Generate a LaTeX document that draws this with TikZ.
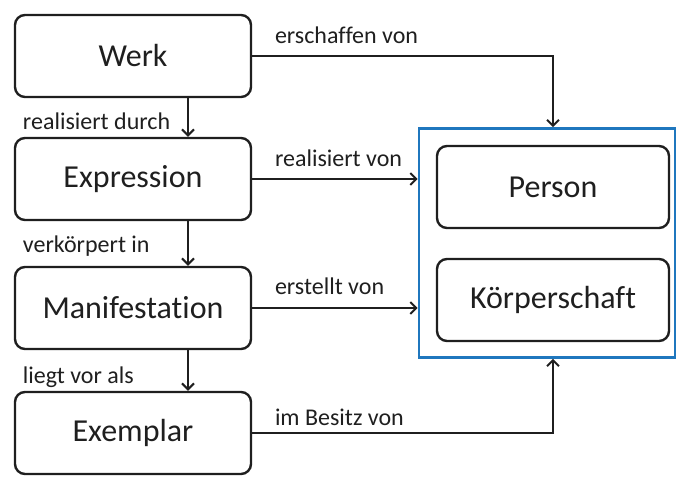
\documentclass[tikz,border=0pt]{standalone}
\usepackage{fontspec}
\setmainfont{Carlito}[Ligatures = NoCommon]
\usetikzlibrary{arrows.meta}

\definecolor{actorblue}{RGB}{31, 119, 190}

\tikzset{
	entity/.style = {draw, line width = 2.4pt, rounded corners = 10pt, minimum width = 236pt, minimum height = 82pt, font = \fontsize{32}{38}\selectfont},
	rel/.style = {anchor = west, inner sep = 0pt, font = \fontsize{24}{28}\selectfont},
}

\begin{document}
\begin{tikzpicture}[x = 1pt, y = -1pt, > = {Straight Barb[length = 6pt, width = 12pt, line width = 2pt]}, line width = 2pt, color = black!88]
\useasboundingbox (0, 0) rectangle (678, 478);

% left column
\node [entity] (werk) at (133, 56) {Werk};
\node [entity] (expr) at (133, 179) {Expression};
\node [entity] (mani) at (133, 308) {Manifestation};
\node [entity] (expl) at (133, 433) {Exemplar};

% right side
\node [draw = actorblue, line width = 2.6pt, minimum width = 256pt, minimum height = 229pt] (actor) at (547, 243) {};
\node [entity, minimum width = 232pt] (person) at (553, 187) {Person};
\node [entity, minimum width = 232pt] (koerp) at (553, 300) {Körperschaft};

% down the left column
\draw [->] ([xshift = 55pt] werk.south) -- ([xshift = 55pt] expr.north);
\draw [->] ([xshift = 55pt] expr.south) -- ([xshift = 55pt] mani.north);
\draw [->] ([xshift = 55pt] mani.south) -- ([xshift = 55pt] expl.north);

\node [rel] at (22, 121) {realisiert durch};
\node [rel] at (22, 246) {verkörpert in};
\node [rel] at (22, 377) {liegt vor als};

% across to the actors
\draw [->] (werk.east) -| (person.north |- actor.north);
\draw [->] (expr.east) -- (expr -| actor.west);
\draw [->] (mani.east) -- (mani -| actor.west);
\draw [->] (expl.east) -| (person.south |- actor.south);

\node [rel] at (274, 35) {erschaffen von};
\node [rel] at (274, 158) {realisiert von};
\node [rel] at (274, 286) {erstellt von};
\node [rel] at (274, 417) {im Besitz von};
\end{tikzpicture}
\end{document}
